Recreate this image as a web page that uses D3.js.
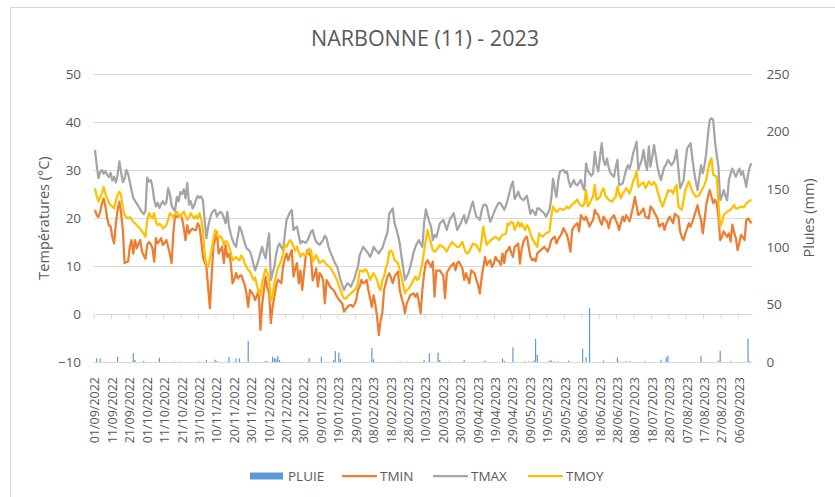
<!DOCTYPE html>
<html>
<head>
<meta charset="utf-8">
<script src="https://cdn.jsdelivr.net/npm/d3@7"></script>
<style>
  body { margin: 0; background: #fff; }
  text { font-family: "Open Sans", "Noto Sans", sans-serif; fill: #595959; }
</style>
</head>
<body>
<div id="graphique"></div>
<script>
// relevés journaliers du 01/09/2022 au 13/09/2023
const tmax = [
  34.2, 31.0, 28.3, 29.5, 30.0, 29.2, 29.8, 29.0, 28.5, 29.4,
  27.8, 28.6, 27.4, 29.0, 31.8, 29.5, 27.5, 28.2, 30.0, 29.2,
  27.5, 25.8, 24.2, 23.6, 23.0, 22.4, 21.8, 21.2, 20.8, 21.5,
  28.4, 27.6, 27.9, 26.5, 23.8, 22.4, 23.2, 22.1, 22.9, 23.5,
  22.8, 23.2, 26.2, 25.0, 22.6, 21.9, 21.5, 24.4, 23.5, 25.4,
  25.0, 26.0, 24.1, 27.3, 22.8, 23.5, 22.0, 22.6, 23.8, 24.6,
  24.2, 24.5, 23.6, 19.5, 15.8, 18.2, 19.8, 21.0, 21.5, 21.7,
  20.3, 20.9, 21.3, 21.0, 20.0, 18.9, 21.3, 18.2, 16.6, 15.4,
  14.5, 14.0, 16.2, 18.2, 17.4, 16.1, 14.8, 13.7, 13.4, 13.0,
  11.9, 10.4, 9.1, 10.2, 11.3, 12.8, 14.0, 12.6, 11.6, 14.5,
  16.8, 7.1, 8.6, 9.8, 12.4, 14.0, 14.7, 13.9, 13.3, 16.5,
  19.6, 20.4, 21.2, 21.7, 17.5, 17.9, 18.2, 16.4, 14.7, 15.2,
  15.0, 14.8, 15.3, 16.2, 17.1, 17.5, 16.0, 15.1, 14.7, 14.4,
  14.9, 15.4, 16.3, 15.8, 14.1, 13.0, 12.2, 11.3, 10.5, 9.9,
  8.5, 7.1, 6.0, 5.0, 5.8, 6.4, 6.1, 5.7, 6.6, 7.4,
  8.8, 9.9, 12.3, 13.1, 14.0, 13.5, 13.0, 12.6, 11.9, 12.8,
  14.0, 13.4, 13.0, 12.6, 13.3, 13.7, 14.9, 16.0, 17.1, 21.0,
  21.4, 22.0, 18.9, 17.8, 16.4, 14.7, 12.0, 9.5, 7.1, 7.8,
  8.5, 9.8, 11.3, 12.9, 14.0, 14.8, 15.4, 14.6, 14.0, 19.0,
  21.8, 20.4, 19.2, 18.2, 15.4, 16.5, 16.0, 17.4, 18.9, 19.2,
  19.6, 18.6, 17.5, 18.8, 19.9, 20.4, 21.0, 19.3, 17.5, 18.2,
  18.9, 19.8, 20.6, 18.9, 19.8, 21.0, 22.4, 23.4, 21.6, 20.3,
  20.0, 19.6, 21.5, 22.7, 22.8, 22.4, 20.6, 19.2, 20.1, 21.0,
  21.9, 22.7, 23.2, 23.0, 22.4, 21.7, 22.6, 23.8, 25.3, 26.7,
  27.6, 24.0, 24.6, 25.5, 24.4, 24.0, 23.7, 24.2, 24.6, 22.8,
  20.9, 21.7, 21.2, 20.6, 22.0, 22.0, 21.6, 21.3, 20.9, 20.3,
  21.0, 21.7, 24.0, 28.2, 26.0, 24.4, 27.8, 29.7, 29.9, 30.0,
  29.4, 29.7, 27.8, 26.5, 27.2, 27.9, 27.0, 26.8, 27.4, 27.9,
  26.6, 25.8, 31.4, 29.8, 29.3, 28.8, 29.3, 33.8, 31.0, 29.7,
  32.8, 35.6, 32.0, 31.0, 32.4, 30.5, 29.3, 28.9, 28.6, 30.5,
  32.1, 26.8, 27.0, 27.2, 28.6, 30.0, 31.0, 30.3, 31.6, 33.5,
  34.6, 35.9, 30.0, 31.2, 32.1, 34.2, 31.5, 30.0, 34.9, 30.7,
  32.8, 35.2, 33.0, 30.7, 29.1, 27.9, 29.4, 30.7, 31.2, 32.1,
  31.6, 31.0, 31.5, 32.4, 34.2, 30.1, 26.2, 27.0, 27.9, 31.5,
  34.5, 35.0, 35.6, 32.5, 29.7, 27.6, 25.8, 28.4, 31.0, 29.3,
  31.0, 33.5, 37.5, 40.4, 40.8, 40.4, 36.0, 33.1, 30.7, 23.7,
  24.5, 25.8, 24.6, 23.7, 27.9, 29.2, 30.3, 29.4, 28.6, 29.5,
  30.3, 29.0, 29.7, 28.2, 26.5, 29.0, 30.7, 31.4
];

const tmoy = [
  26.2, 24.6, 23.4, 24.3, 25.1, 26.5, 25.0, 24.1, 23.2, 22.7,
  22.4, 22.0, 23.6, 24.8, 25.5, 24.8, 22.0, 20.6, 20.2, 19.9,
  20.2, 19.7, 19.2, 18.9, 18.5, 18.1, 17.8, 17.2, 16.8, 16.1,
  19.5, 21.0, 20.4, 19.9, 21.0, 19.2, 18.5, 18.8, 18.5, 17.8,
  18.1, 18.5, 19.6, 21.0, 20.6, 20.2, 20.9, 21.3, 20.8, 20.2,
  20.8, 21.3, 20.5, 19.6, 20.2, 21.0, 20.4, 19.9, 20.5, 19.9,
  21.0, 19.8, 17.5, 12.4, 10.2, 9.8, 11.5, 13.3, 15.6, 17.5,
  16.6, 15.8, 16.2, 15.8, 14.4, 15.2, 15.0, 14.1, 12.8, 11.2,
  11.5, 11.9, 11.4, 11.2, 12.2, 11.6, 10.6, 9.8, 9.2, 8.8,
  8.0, 7.1, 7.6, 6.0, 4.5, 3.8, 6.5, 8.1, 9.4, 8.6,
  7.4, 2.8, 3.5, 6.4, 8.0, 9.5, 10.3, 11.2, 12.5, 14.4,
  14.0, 14.8, 15.4, 14.9, 14.0, 13.2, 14.0, 12.9, 11.9, 12.6,
  12.4, 12.2, 12.9, 13.6, 13.3, 10.9, 11.5, 12.3, 11.4, 10.6,
  10.9, 11.2, 10.8, 10.2, 10.0, 9.8, 9.2, 8.5, 7.8, 7.1,
  6.0, 5.0, 4.0, 3.3, 3.2, 3.6, 4.0, 4.3, 4.6, 5.0,
  5.4, 6.5, 9.1, 9.0, 8.8, 9.3, 9.1, 8.2, 7.1, 7.8,
  8.5, 7.8, 7.1, 5.5, 5.0, 7.0, 7.8, 9.6, 10.6, 13.0,
  13.2, 12.6, 11.2, 10.9, 10.6, 9.2, 7.8, 6.0, 4.3, 5.0,
  5.2, 5.8, 6.4, 7.2, 7.8, 7.1, 7.4, 9.0, 10.6, 13.2,
  15.5, 17.5, 15.8, 14.7, 13.3, 13.0, 13.3, 13.8, 14.4, 14.1,
  14.0, 13.5, 13.0, 13.8, 14.4, 15.0, 14.6, 14.3, 14.0, 14.0,
  14.5, 15.0, 13.8, 12.8, 12.6, 13.0, 13.9, 14.7, 14.5, 14.4,
  13.6, 13.0, 15.5, 18.2, 16.0, 14.4, 15.0, 15.2, 15.6, 15.8,
  16.1, 15.8, 15.4, 16.0, 16.5, 16.6, 16.8, 18.9, 18.6, 19.2,
  19.0, 17.5, 18.4, 19.2, 18.2, 18.9, 18.2, 17.5, 18.5, 18.0,
  16.8, 15.8, 15.1, 14.5, 14.0, 16.8, 16.4, 16.1, 16.5, 16.8,
  17.0, 17.2, 20.3, 22.4, 21.8, 21.3, 21.6, 22.0, 21.8, 21.7,
  22.0, 22.4, 22.0, 22.4, 22.8, 23.1, 23.5, 23.8, 23.0, 22.7,
  22.4, 23.0, 25.8, 22.4, 23.0, 23.8, 24.5, 26.9, 23.8, 24.0,
  24.4, 25.5, 26.2, 24.8, 24.2, 23.8, 23.6, 23.4, 24.0, 24.4,
  26.5, 25.0, 24.1, 25.1, 25.6, 26.2, 25.8, 25.1, 26.3, 27.6,
  28.5, 29.7, 26.5, 26.8, 27.2, 27.4, 26.2, 26.8, 27.6, 27.1,
  26.9, 27.5, 26.9, 25.6, 24.4, 23.2, 22.4, 23.5, 24.4, 25.8,
  25.5, 25.8, 25.1, 26.2, 26.9, 22.4, 22.0, 21.7, 23.8, 25.8,
  26.8, 27.6, 26.6, 25.5, 25.0, 24.4, 24.6, 24.8, 25.6, 26.2,
  27.0, 27.9, 30.0, 31.7, 32.4, 29.0, 28.8, 28.6, 23.1, 18.2,
  19.0, 20.6, 21.0, 21.3, 21.5, 21.7, 22.2, 22.7, 22.0, 22.0,
  22.2, 22.4, 22.2, 22.4, 23.1, 23.3, 23.6, 23.8
];

const tmin = [
  21.7, 20.6, 20.2, 21.3, 23.0, 24.1, 22.4, 20.0, 18.5, 18.2,
  16.0, 14.7, 18.9, 21.7, 23.4, 21.0, 17.5, 10.6, 10.8, 10.9,
  14.0, 15.4, 12.6, 15.4, 13.7, 14.6, 15.4, 13.0, 12.2, 11.5,
  14.4, 15.0, 14.6, 13.7, 10.9, 15.8, 14.7, 15.2, 15.8, 14.4,
  14.8, 15.4, 14.0, 12.5, 10.6, 16.8, 20.6, 20.2, 20.4, 20.6,
  19.9, 18.0, 15.4, 18.5, 16.8, 17.4, 17.8, 17.5, 17.5, 18.9,
  18.2, 15.4, 11.9, 10.8, 9.8, 5.5, 1.2, 8.0, 14.0, 15.5,
  17.1, 12.6, 13.3, 14.0, 10.6, 14.4, 11.9, 12.5, 10.6, 6.4,
  7.2, 8.5, 7.4, 7.9, 8.1, 7.1, 6.0, 4.3, 1.5, 5.0,
  4.5, 3.9, 2.9, 3.8, 5.0, -3.3, 2.0, 5.0, 7.8, 5.5,
  4.3, -1.9, 1.5, 3.6, 5.7, 7.1, 6.8, 6.4, 9.8, 11.5,
  12.6, 11.2, 12.4, 13.3, 7.8, 9.5, 10.6, 6.4, 9.1, 5.0,
  8.5, 11.9, 13.3, 12.5, 11.9, 7.0, 8.0, 9.5, 5.7, 8.5,
  8.0, 7.1, 2.2, 7.1, 6.4, 5.7, 5.3, 5.0, 4.3, 3.6,
  3.0, 2.6, 2.2, 0.5, 1.0, 1.5, 1.8, 1.9, 1.5, 2.0,
  2.9, 5.0, 5.7, 7.1, 6.4, 6.6, 7.1, 5.0, 3.2, 1.5,
  3.9, 2.0, -0.6, -4.4, -1.5, 0.2, 5.0, 6.5, 7.8, 8.5,
  7.5, 6.4, 7.8, 8.4, 8.8, 5.0, 3.5, 2.2, 0.2, 2.2,
  3.0, 3.9, 4.1, 4.3, 3.6, 4.3, 2.5, 0.2, 5.0, 8.5,
  10.6, 11.2, 10.5, 9.8, 10.9, 3.6, 9.1, 9.0, 9.1, 8.5,
  8.0, 3.3, 8.5, 9.2, 9.8, 10.2, 10.6, 9.1, 10.6, 10.9,
  10.2, 9.5, 7.1, 8.5, 7.5, 6.4, 9.1, 8.8, 8.5, 7.1,
  6.0, 4.3, 7.5, 9.8, 11.9, 10.2, 10.8, 11.2, 9.8, 10.5,
  11.9, 11.2, 11.0, 10.2, 12.6, 10.6, 13.0, 13.2, 14.0, 12.8,
  11.9, 14.0, 14.3, 14.7, 10.5, 13.5, 15.0, 15.8, 16.1, 14.0,
  12.0, 11.2, 11.5, 11.0, 12.6, 13.0, 13.3, 13.6, 14.0, 13.5,
  13.0, 14.0, 15.4, 15.8, 16.1, 14.7, 15.6, 16.2, 16.8, 17.9,
  17.2, 16.5, 15.0, 13.0, 17.5, 18.2, 18.6, 18.9, 17.2, 20.6,
  20.0, 19.6, 20.3, 19.2, 18.2, 19.0, 19.6, 21.7, 21.0, 20.6,
  19.4, 18.6, 20.3, 19.6, 19.3, 17.9, 19.6, 20.1, 20.6, 19.6,
  18.8, 17.5, 19.0, 20.3, 19.3, 20.6, 20.0, 19.3, 20.8, 22.4,
  24.4, 22.5, 20.6, 20.9, 21.5, 22.0, 20.3, 20.1, 19.9, 22.4,
  22.0, 21.3, 20.6, 19.9, 18.2, 18.6, 18.9, 17.5, 18.8, 19.6,
  20.3, 19.6, 18.9, 20.9, 20.5, 20.3, 17.2, 16.0, 15.4, 16.8,
  17.8, 18.9, 18.2, 19.2, 20.3, 21.5, 22.7, 20.9, 19.6, 16.8,
  19.5, 22.7, 24.5, 25.8, 24.4, 23.1, 23.8, 23.1, 20.3, 15.4,
  16.0, 17.2, 16.6, 16.1, 16.8, 15.1, 18.6, 17.0, 15.8, 13.3,
  14.8, 16.5, 16.0, 15.4, 19.6, 19.9, 19.4, 18.9
];

// jours de pluie : rang du jour depuis le 01/09/2022 et hauteur en mm
const pluieJours = [1, 3, 6, 13, 22, 23, 28, 37, 41, 46, 49, 60, 64, 69, 70, 76, 77, 81, 83, 88,
  98, 99, 102, 103, 104, 105, 106, 123, 130, 137, 138, 140, 141, 159, 160, 174, 176, 179,
  189, 192, 197, 198, 203, 212, 223, 224, 234, 235, 240, 247, 249, 252, 253, 254, 261, 262,
  264, 266, 272, 280, 282, 284, 292, 300, 301, 305, 307, 316, 325, 328, 329, 348, 358, 359,
  365, 375, 376];
const pluieMm = [3.2, 3.2, 0.3, 4.6, 7.5, 1.7, 1.0, 3.7, 0.3, 0.3, 0.3, 0.3, 1.7, 2.0, 0.8, 0.3, 4.6, 3.2, 3.2, 18.2,
  1.0, 0.3, 4.6, 3.2, 3.2, 5.2, 1.7, 3.5, 4.6, 1.7, 9.5, 8.1, 2.6, 12.2, 2.5, 0.3, 0.3, 0.3,
  1.7, 7.5, 8.1, 1.7, 0.3, 1.7, 0.3, 1.2, 3.0, 1.0, 12.8, 0.5, 0.5, 1.2, 20.0, 6.2, 1.2, 1.4,
  0.5, 0.5, 1.2, 11.6, 4.1, 46.8, 1.2, 4.1, 0.6, 0.6, 0.6, 0.6, 2.0, 4.1, 5.5, 5.5, 1.2, 9.8,
  0.6, 20.2, 0.6];

const etiquettes = ["01/09/2022", "11/09/2022", "21/09/2022", "01/10/2022", "11/10/2022",
  "21/10/2022", "31/10/2022", "10/11/2022", "20/11/2022", "30/11/2022", "10/12/2022",
  "20/12/2022", "30/12/2022", "09/01/2023", "19/01/2023", "29/01/2023", "08/02/2023",
  "18/02/2023", "28/02/2023", "10/03/2023", "20/03/2023", "30/03/2023", "09/04/2023",
  "19/04/2023", "29/04/2023", "09/05/2023", "19/05/2023", "29/05/2023", "08/06/2023",
  "18/06/2023", "28/06/2023", "08/07/2023", "18/07/2023", "28/07/2023", "07/08/2023",
  "17/08/2023", "27/08/2023", "06/09/2023"];

const ticksTemp = [-10, 0, 10, 20, 30, 40, 50];
const ticksPluie = [0, 50, 100, 150, 200, 250];

const width = 835;
const height = 497;
const n = tmax.length;

const pluie = new Array(n).fill(0);
pluieJours.forEach((j, k) => (pluie[j] = pluieMm[k]));

const x = d3.scaleBand().domain(d3.range(n)).range([94.1, 752.4]);
const bw = x.bandwidth();
const cx = (i) => x(i) + bw / 2;
const yT = d3.scaleLinear().domain([-10, 50]).range([362, 74]);
const yP = d3.scaleLinear().domain([0, 250]).range([362, 74]);

const svg = d3
  .select("#graphique")
  .append("svg")
  .attr("width", width)
  .attr("height", height);

svg.append("rect").attr("width", width).attr("height", height).attr("fill", "#fff");
// cadre du graphique
svg
  .append("rect")
  .attr("x", 10.5)
  .attr("y", 7.5)
  .attr("width", 900)
  .attr("height", 600)
  .attr("fill", "none")
  .attr("stroke", "#d9d9d9");

svg
  .append("text")
  .attr("x", 425)
  .attr("y", 46)
  .attr("text-anchor", "middle")
  .style("font-size", "21.5px")
  .text("NARBONNE (11) - 2023");

// grille + axe gauche
svg
  .append("g")
  .attr("transform", "translate(94.1,0)")
  .call(d3.axisLeft(yT).tickValues(ticksTemp).tickSize(-(752.4 - 94.1)).tickPadding(13))
  .call((g) => g.select(".domain").remove())
  .call((g) => g.selectAll("line").attr("stroke", "#d9d9d9"))
  .call((g) => g.selectAll("text").style("font-size", "13.5px").attr("fill", "#595959"));

// axe droit (pluie)
svg
  .append("g")
  .attr("transform", "translate(752.4,0)")
  .call(d3.axisRight(yP).tickValues(ticksPluie).tickSize(0).tickPadding(14))
  .call((g) => g.select(".domain").remove())
  .call((g) => g.selectAll("text").style("font-size", "13.5px").attr("fill", "#595959"));

// graduations sur la ligne 0 °C
const graduations = d3.range(0, n, 10);
svg
  .append("g")
  .selectAll("line")
  .data(graduations)
  .join("line")
  .attr("x1", (i) => x(i))
  .attr("x2", (i) => x(i))
  .attr("y1", yT(0))
  .attr("y2", yT(0) + 5)
  .attr("stroke", "#d9d9d9");

// étiquettes de dates
svg
  .append("g")
  .selectAll("text")
  .data(graduations)
  .join("text")
  .attr("transform", (i) => `translate(${cx(i) + 4.5}, 377) rotate(-90)`)
  .attr("text-anchor", "end")
  .style("font-size", "12.5px")
  .text((i, k) => etiquettes[k]);

// barres de pluie
svg
  .append("g")
  .selectAll("rect")
  .data(pluie.map((v, i) => ({ i, v })).filter((d) => d.v > 0))
  .join("rect")
  .attr("x", (d) => cx(d.i) - 0.6)
  .attr("width", 1.2)
  .attr("y", (d) => yP(d.v))
  .attr("height", (d) => yP(0) - yP(d.v))
  .attr("fill", "#5b9bd5");

const series = [
  { nom: "TMIN", valeurs: tmin, couleur: "#ed7d31" },
  { nom: "TMAX", valeurs: tmax, couleur: "#a5a5a5" },
  { nom: "TMOY", valeurs: tmoy, couleur: "#ffc000" },
];

const ligne = (vals) =>
  d3
    .line()
    .x((d, i) => cx(i))
    .y((d) => yT(d))(vals);

svg
  .append("g")
  .selectAll("path")
  .data(series)
  .join("path")
  .attr("d", (s) => ligne(s.valeurs))
  .attr("fill", "none")
  .attr("stroke", (s) => s.couleur)
  .attr("stroke-width", 2.25)
  .attr("stroke-linejoin", "round");

// titres des axes
svg
  .append("text")
  .attr("transform", "translate(49, 218) rotate(-90)")
  .attr("text-anchor", "middle")
  .style("font-size", "14.5px")
  .text("Températures (°C)");

svg
  .append("text")
  .attr("transform", "translate(814, 218) rotate(-90)")
  .attr("text-anchor", "middle")
  .style("font-size", "14.5px")
  .text("Pluies (mm)");

// légende
const leyenda = svg.append("g").attr("transform", "translate(0, 476)");
const items = [
  { texto: "PLUIE", x: 250, color: "#5b9bd5", barre: true },
  { texto: "TMIN", x: 342, color: "#ed7d31" },
  { texto: "TMAX", x: 433, color: "#a5a5a5" },
  { texto: "TMOY", x: 528, color: "#ffc000" },
];
items.forEach((d) => {
  if (d.barre) {
    leyenda.append("rect").attr("x", d.x).attr("y", -3.5).attr("width", 33).attr("height", 7).attr("fill", d.color);
  } else {
    leyenda
      .append("line")
      .attr("x1", d.x)
      .attr("x2", d.x + 35)
      .attr("stroke", d.color)
      .attr("stroke-width", 2.25);
  }
  leyenda
    .append("text")
    .attr("x", d.x + 38)
    .attr("y", 5)
    .style("font-size", "13.5px")
    .text(d.texto);
});
</script>
</body>
</html>
